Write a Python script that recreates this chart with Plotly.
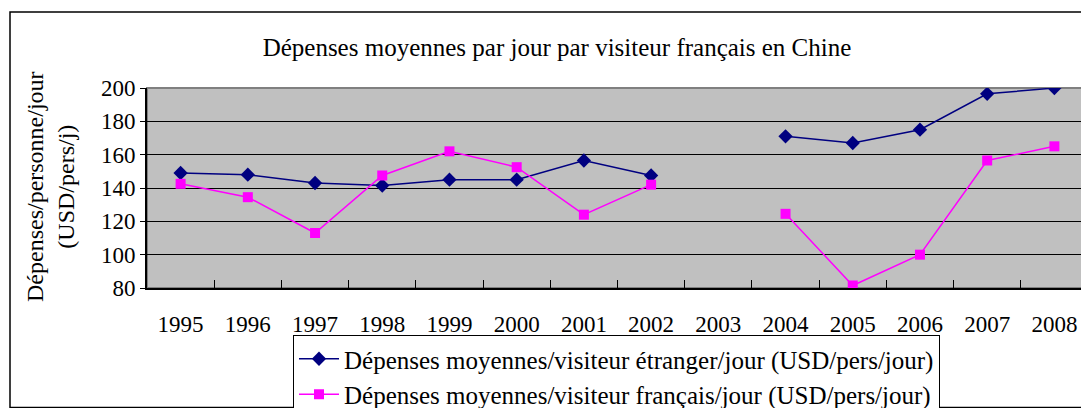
import plotly.graph_objects as go

years = ["1995", "1996", "1997", "1998", "1999", "2000", "2001", "2002",
         "2003", "2004", "2005", "2006", "2007", "2008"]
etranger = [149, 148, 143, 141.5, 145, 145, 156.5, 147.5,
            None, 171, 167, 175, 196.5, 200]
francais = [142.5, 134.5, 113, 147.5, 162, 152.5, 124, 142,
            None, 124.5, 81.5, 100, 156.5, 165]

name_etr = "Dépenses moyennes/visiteur étranger/jour (USD/pers/jour)"
name_fr = "Dépenses moyennes/visiteur français/jour (USD/pers/jour)"
title = "Dépenses moyennes par jour par visiteur français en Chine"
ytitle = "Dépenses/personne/jour<br>(USD/pers/j)"

FONT = "Liberation Serif"
OFF = 8  # page body margin

fig = go.Figure()
fig.add_trace(go.Scatter(
    x=years, y=etranger, name=name_etr, mode="lines+markers",
    line=dict(color="#000080", width=1.5),
    marker=dict(symbol="diamond", size=11, color="#000080"),
    connectgaps=False,
))
fig.add_trace(go.Scatter(
    x=years, y=francais, name=name_fr, mode="lines+markers",
    line=dict(color="#FF00FF", width=1.5),
    marker=dict(symbol="square", size=10, color="#FF00FF"),
    connectgaps=False,
))

W, H = 1089 - OFF, 408 - OFF
L, R, T, B = 147 - OFF, 1, 88 - OFF, 408 - 288
pw = W - L - R
ph = H - T - B

def px_x(p):
    return (p - OFF - L) / pw

def px_y(p):
    return (H - B - (p - OFF)) / ph

shapes = [
    dict(type="rect", xref="paper", yref="paper",
         x0=px_x(10), x1=px_x(1087.5), y0=px_y(407.5), y1=px_y(12),
         line=dict(color="black", width=1.5), fillcolor="rgba(0,0,0,0)", layer="below"),
    dict(type="rect", xref="paper", yref="paper", x0=0, x1=1, y0=0, y1=1,
         line=dict(color="#808080", width=2), fillcolor="rgba(0,0,0,0)", layer="below"),
]

annotations = [
    dict(text=ytitle, xref="paper", yref="paper", x=px_x(50), y=px_y(187),
         xanchor="center", yanchor="middle", textangle=-90, showarrow=False,
         font=dict(family=FONT, size=24, color="black")),
]

fig.update_layout(
    width=W, height=H,
    margin=dict(l=L, r=R, t=T, b=B, pad=0, autoexpand=False),
    paper_bgcolor="white",
    plot_bgcolor="#C0C0C0",
    font=dict(family=FONT, size=23, color="black"),
    title=dict(text=title, xref="container", x=(557 - OFF) / W, xanchor="center",
               yref="container", y=1 - (47 - OFF) / H, yanchor="middle",
               font=dict(family=FONT, size=25, color="black")),
    showlegend=True,
    legend=dict(x=px_x(293), xanchor="left", y=px_y(335), yanchor="top",
                bgcolor="white", bordercolor="black", borderwidth=1,
                font=dict(family=FONT, size=25), tracegroupgap=0,
                itemwidth=40),
    shapes=shapes,
    annotations=annotations,
    xaxis=dict(
        type="category", categoryorder="array", categoryarray=years,
        range=[-0.5, 13.5], showgrid=False, zeroline=False, automargin=False,
        showline=True, linecolor="black", linewidth=2,
        ticks="inside", ticklen=8, tickcolor="black", tickwidth=1,
        tickson="boundaries", ticklabelstandoff=14,
        tickfont=dict(family=FONT, size=23),
    ),
    yaxis=dict(
        range=[80, 200], tickmode="array", tickvals=[80, 100, 120, 140, 160, 180, 200],
        showgrid=True, gridcolor="black", gridwidth=1, zeroline=False, automargin=False,
        showline=True, linecolor="black", linewidth=2,
        ticks="outside", ticklen=5, tickcolor="black",
        tickfont=dict(family=FONT, size=23),
    ),
)

fig.write_html("out.html")
